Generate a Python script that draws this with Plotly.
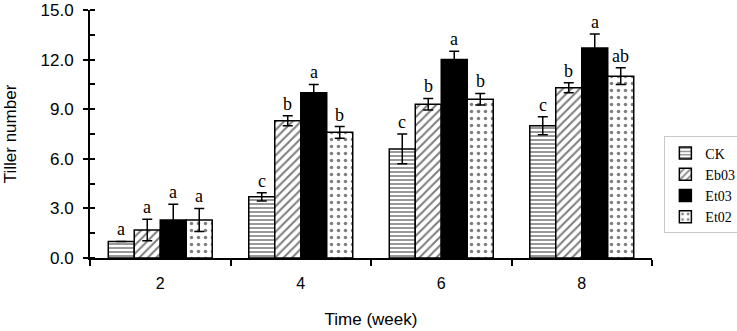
import plotly.graph_objects as go

weeks = ["2", "4", "6", "8"]
series = ["CK", "Eb03", "Et03", "Et02"]
ck = [1.0, 3.7, 6.6, 8.0]
eb03 = [1.7, 8.3, 9.3, 10.3]
et03 = [2.3, 10.0, 12.0, 12.7]
et02 = [2.3, 7.6, 9.6, 11.0]
ck_err = [0.0, 0.25, 0.9, 0.55]
eb03_err = [0.65, 0.3, 0.35, 0.3]
et03_err = [0.95, 0.5, 0.5, 0.85]
et02_err = [0.7, 0.35, 0.35, 0.5]
ck_lab = ["a", "c", "c", "c"]
eb03_lab = ["a", "b", "b", "b"]
et03_lab = ["a", "a", "a", "a"]
et02_lab = ["a", "b", "b", "ab"]

values = [ck, eb03, et03, et02]
errors = [ck_err, eb03_err, et03_err, et02_err]
labels = [ck_lab, eb03_lab, et03_lab, et02_lab]
patterns = ["-", "/", "", "."]
fills = ["white", "white", "black", "white"]
psizes = [4, 6, 6, 7]
psolid = [0.4, 0.35, 0.3, 0.2]

bargap = 0.26
bw = (1 - bargap) / 4
xs = list(range(len(weeks)))

fig = go.Figure()
for j, name in enumerate(series):
    fig.add_trace(go.Bar(
        x=xs, y=values[j], name=name,
        marker=dict(color=fills[j], line=dict(color="black", width=1.5),
                    pattern=dict(shape=patterns[j], fgcolor="black", bgcolor=fills[j],
                                 size=psizes[j], solidity=psolid[j])),
        error_y=dict(type="data", array=errors[j], visible=True, color="black", thickness=1.5, width=5),
    ))
    for i in xs:
        fig.add_annotation(x=i + (j - 1.5) * bw, y=values[j][i] + errors[j][i], text=labels[j][i],
                           showarrow=False, yanchor="bottom", yshift=0,
                           font=dict(family="Liberation Serif", size=18, color="black"))

# dummy trace for crossing major ticks
fig.add_trace(go.Scatter(x=[0], y=[0], yaxis="y2", mode="markers", marker=dict(opacity=0),
                         showlegend=False, hoverinfo="skip"))

fig.update_layout(
    width=737, height=331,
    margin=dict(l=90, r=85, t=10, b=73, autoexpand=False),
    paper_bgcolor="white", plot_bgcolor="white",
    barmode="group", bargap=bargap, bargroupgap=0,
    font=dict(family="Liberation Sans", size=16, color="black"),
    showlegend=True,
    legend=dict(x=1.022, y=0.49, xanchor="left", yanchor="top",
                bordercolor="#c8c8c8", borderwidth=1,
                font=dict(family="Liberation Serif", size=14, color="black"),
                tracegroupgap=0, itemwidth=30),
    xaxis=dict(range=[-0.5, 3.5], tickvals=xs, ticktext=weeks, ticks="", automargin=False,
               showline=True, linecolor="black", linewidth=2, showgrid=False, zeroline=False,
               minor=dict(tick0=-0.5, dtick=1, ticks="outside", ticklen=6, tickwidth=2, tickcolor="black", showgrid=False),
               ticklabelstandoff=10,
               title=dict(text="Time (week)", font=dict(size=17), standoff=22),
               tickfont=dict(size=16)),
    yaxis=dict(range=[0, 15], tickvals=[0, 3, 6, 9, 12, 15], automargin=False,
               ticktext=["0.0", "3.0", "6.0", "9.0", "12.0", "15.0"],
               ticks="outside", ticklen=5, tickwidth=2, tickcolor="black",
               showline=True, linecolor="black", linewidth=2, showgrid=False, zeroline=False,
               minor=dict(dtick=1.5, tick0=0, ticks="inside", ticklen=5, tickwidth=1.5, tickcolor="black", showgrid=False),
               ticklabelstandoff=6,
               title=dict(text="Tiller number", font=dict(size=17), standoff=20),
               tickfont=dict(size=17)),
    yaxis2=dict(range=[0, 15], overlaying="y", side="left", tickvals=[0, 3, 6, 9, 12, 15], automargin=False,
                ticks="inside", ticklen=5, tickwidth=2, tickcolor="black", showticklabels=False,
                showline=False, showgrid=False, zeroline=False),
)

fig.write_html("out.html", config={"displayModeBar": False},
               post_script="document.body.style.margin='0';document.body.style.padding='0';")
